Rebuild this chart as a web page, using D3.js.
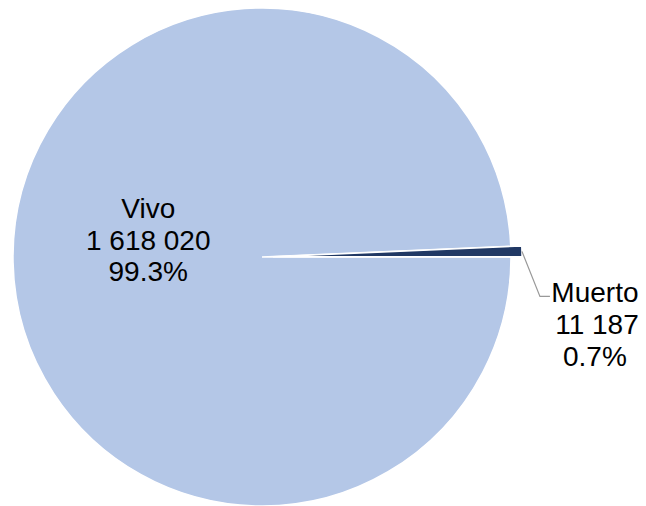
<!DOCTYPE html>
<html>
<head>
<meta charset="utf-8">
<script src="https://cdn.jsdelivr.net/npm/d3@7"></script>
<style>
html,body{margin:0;padding:0;background:#fff;}
svg{display:block;}
text{font-family:"Liberation Sans",Arial,sans-serif;}
</style>
</head>
<body>
<svg id="chart" width="646" height="506"></svg>
<script>
const categories = ["Vivo", "Muerto"];
const values = [1618020, 11187];
const valueLabels = ["1 618 020", "11 187"];
const percentLabels = ["99.3%", "0.7%"];
const colors = ["#B4C7E7", "#203864"];

const W = 646, H = 506;
const cx = 262, cy = 257, R = 249;
const explode = [0, 11];
const fontSize = 28, lineH = 31.5;

const svg = d3.select("#chart");
const g = svg.append("g").attr("transform", `translate(${cx},${cy})`);

const data = categories.map((c, i) => ({name: c, value: values[i], vl: valueLabels[i], pl: percentLabels[i], i}));

const pie = d3.pie().value(d => d.value).sort(null)
  .startAngle(Math.PI / 2).endAngle(Math.PI / 2 + 2 * Math.PI);
const arcs = pie(data);
const arc = d3.arc().innerRadius(0).outerRadius(R);

g.selectAll("path.slice").data(arcs).join("path")
  .attr("class", "slice")
  .attr("d", arc)
  .attr("fill", d => colors[d.data.i])
  .attr("stroke", "#fff")
  .attr("stroke-width", 1.5)
  .attr("stroke-linejoin", "miter")
  .attr("transform", d => {
    const a = (d.startAngle + d.endAngle) / 2;
    const off = explode[d.data.i];
    return `translate(${off * Math.sin(a)},${-off * Math.cos(a)})`;
  });

// Vivo label (inside)
const vivo = arcs[0];
const va = (vivo.startAngle + vivo.endAngle) / 2;
const vr = R * 0.457;
const vx = vr * Math.sin(va), vy = -vr * Math.cos(va);
const vt = g.append("text").attr("text-anchor", "middle")
  .attr("font-size", fontSize).attr("fill", "#000");
[vivo.data.name, vivo.data.vl, vivo.data.pl].forEach((t, k) => {
  vt.append("tspan").attr("x", vx).attr("y", vy - 41 + k * lineH).text(t);
});

// Muerto label (outside with leader)
const m = arcs[1];
const ma = (m.startAngle + m.endAngle) / 2;
const mo = explode[1];
const px = (R + mo) * Math.sin(ma), py = -(R + mo) * Math.cos(ma);
const elbowX = px + 18, elbowY = py + 45;
const endX = elbowX + 10;
g.append("polyline")
  .attr("points", `${px},${py} ${elbowX},${elbowY} ${endX},${elbowY}`)
  .attr("fill", "none").attr("stroke", "#999").attr("stroke-width", 1.2);

const lx = endX + 45;
const mt = g.append("text").attr("text-anchor", "middle")
  .attr("font-size", fontSize).attr("fill", "#000");
[m.data.name, m.data.vl, m.data.pl].forEach((t, k) => {
  mt.append("tspan").attr("x", lx + (k === 1 ? 2 : 0)).attr("y", elbowY + 6 + k * lineH + (k===2?1:0)).text(t);
});
</script>
</body>
</html>
